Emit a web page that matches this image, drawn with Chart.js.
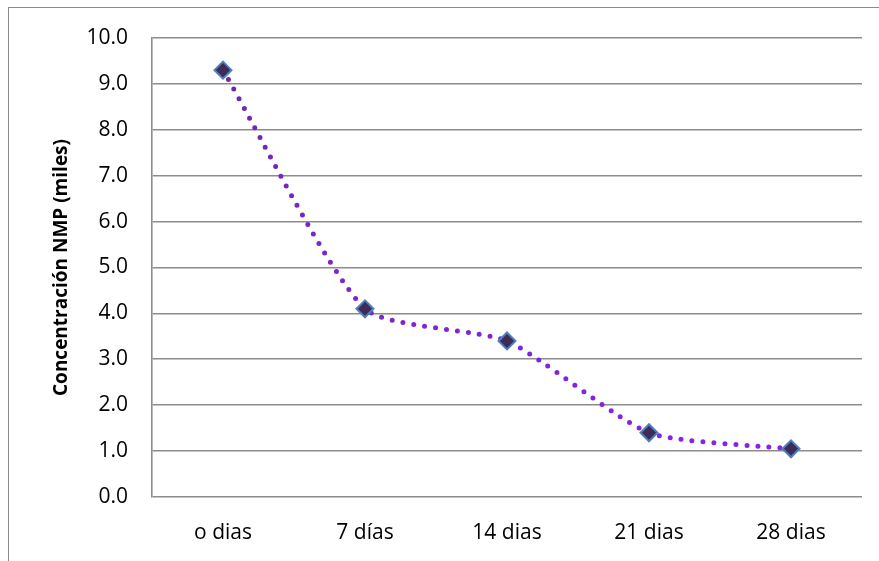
<!DOCTYPE html>
<html>
<head>
<meta charset="utf-8">
<script src="https://cdn.jsdelivr.net/npm/chart.js@4.4.1/dist/chart.umd.min.js"></script>
<style>
  html, body { margin: 0; padding: 0; background: #fff; overflow: hidden; }
  #wrap { position: relative; width: 879px; height: 561px; }
  #frame { position: absolute; left: 8px; top: 7px; width: 900px; height: 600px;
           border-left: 1.5px solid #8a8a8a; border-top: 1.5px solid #8a8a8a; }
  canvas { position: absolute; left: 0; top: 0; }
</style>
</head>
<body>
<div id="wrap">
  <div id="frame"></div>
  <canvas id="chart" width="879" height="561"></canvas>
</div>
<script>
const labels = ["o dias", "7 días", "14 dias", "21 dias", "28 dias"];
const values = [9.3, 4.1, 3.4, 1.4, 1.05];
const yMin = 0;
const yMax = 10;
const yStep = 1;
const yTitle = "Concentración NMP (miles)";

const font = "'Open Sans', Lato, sans-serif";

// purple dotted line, a bit darker at the top
const lineColor = (ctx) => {
    const area = ctx.chart.chartArea;
    if (!area) return "#7a2ed6";
    const g = ctx.chart.ctx.createLinearGradient(0, area.top, 0, area.bottom);
    g.addColorStop(0, "#6a2aa6");
    g.addColorStop(1, "#8a22f2");
    return g;
};

const data = {
    labels: labels,
    datasets: [
        {
            data: values,
            borderColor: lineColor,
            borderWidth: 5,
            borderDash: [0, 11],
            borderCapStyle: "round",
            tension: 0.2,
            fill: false,
            pointStyle: "rectRot",
            pointRadius: 8.5,
            pointHoverRadius: 8.5,
            pointBackgroundColor: "#3e2c58",
            pointBorderColor: "#4f81bd",
            pointBorderWidth: 2
        }
    ]
};

const config = {
    type: "line",
    data: data,
    options: {
        responsive: false,
        animation: false,
        layout: { padding: { left: 0, top: 38, right: 17, bottom: 0 } },
        plugins: {
            legend: { display: false },
            tooltip: { enabled: false }
        },
        scales: {
            x: {
                offset: true,
                grid: { display: false, drawTicks: false },
                border: { display: false },
                ticks: {
                    color: "#000",
                    font: { family: font, size: 21 },
                    padding: 23,
                    maxRotation: 0
                },
                afterFit: (scale) => { scale.height = 64; }
            },
            y: {
                min: yMin,
                max: yMax,
                grid: { color: "#8c8c8c", lineWidth: 1.6, drawTicks: false },
                border: { display: true, color: "#8c8c8c", width: 1.6 },
                ticks: {
                    stepSize: yStep,
                    color: "#000",
                    font: { family: font, size: 21 },
                    padding: 24,
                    callback: (v) => Number(v).toFixed(1)
                },
                title: {
                    display: true,
                    text: yTitle,
                    color: "#000",
                    font: { family: font, size: 19, weight: "bold" },
                    padding: { top: 50, bottom: 0 }
                },
                afterFit: (scale) => { scale.width = 152; }
            }
        }
    }
};

const myChart = new Chart(document.getElementById("chart"), config);
</script>
</body>
</html>
